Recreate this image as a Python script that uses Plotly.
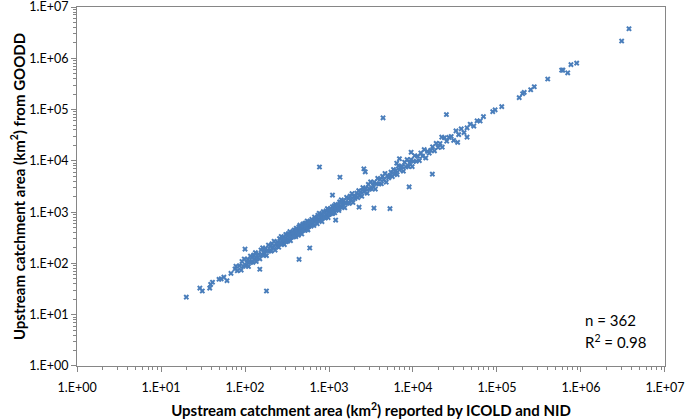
import plotly.graph_objects as go

# catchment area reported by ICOLD and NID (km2)
icold_area = [
    20, 29, 31, 38, 39, 41, 49, 52, 56, 61, 68, 76, 81, 78,
    100, 150, 180, 440, 590, 770, 1350, 1100, 1200, 2600, 2700, 2280, 3430, 5320,
    4400, 9000, 17000, 6900, 6400, 9500, 22000, 34000, 25000, 44000,
    86, 90, 92, 95, 98, 102, 105, 108, 110, 113,
    116, 118, 121, 124, 127, 130, 133, 136, 139, 142,
    145, 150, 155, 158, 162, 166, 170, 175, 180, 186,
    190, 195, 200, 205, 210, 216, 222, 228, 234, 240,
    246, 252, 258, 264, 270, 276, 282, 288, 294, 300,
    306, 312, 318, 324, 330, 336, 342, 348, 354, 360,
    366, 372, 378, 384, 390, 396, 402, 408, 414, 420,
    426, 432, 438, 444, 450, 456, 462, 468, 474, 480,
    490, 500, 510, 520, 530, 540, 550, 560, 570, 580,
    590, 600, 612, 624, 636, 648, 660, 672, 684, 696,
    710, 724, 738, 752, 766, 780, 795, 810, 825, 840,
    856, 872, 888, 905, 922, 940, 958, 976, 995, 1015,
    1035, 1055, 1075, 1095, 1120, 1145, 1170, 1195, 1220, 1250,
    1280, 1310, 1340, 1370, 1400, 1430, 1460, 1500, 1540, 1580,
    1620, 1660, 1700, 1745, 1790, 1835, 1880, 1930, 1980, 2030,
    2080, 2140, 2200, 2260, 2320, 2390, 2460, 2530, 2600, 2680,
    265, 280, 295, 310, 325, 340, 355, 370, 385, 400,
    415, 430, 445, 460, 475, 495, 515, 535, 555, 575,
    1000, 1040, 1080, 1110, 1150, 1190, 1230, 1270, 1320, 1360,
    2760, 2850, 2940, 3030, 3130, 3230, 3340, 3450, 3560, 3680,
    3800, 3930, 4060, 4200, 4340, 4490, 4640, 4800, 4960, 5130,
    5300, 5480, 5670, 5860, 6060, 6270, 6480, 6700, 6930, 7170,
    7420, 7680, 7950, 8230, 8520, 8820, 9130, 9450, 9780, 10100,
    10500, 10900, 11400, 11900, 12400, 13000, 13600, 14200, 14900, 15600,
    16300, 17100, 18000, 18900, 19900, 21000, 22300, 23700, 25200, 26800,
    28500, 30500, 32500, 35000, 37500, 40500, 44000, 48000, 53000, 58000, 63000,
    69000, 89000, 95000, 114000, 184000, 202000, 211000, 252000, 278000, 402000,
    589000, 610000, 695000, 760000, 889000, 3050000, 3730000,
]

# catchment area derived from GOODD (km2)
goodd_area = [
    22, 33, 29, 33, 39, 43, 49, 50, 54, 46, 64, 78, 72, 88,
    190, 77, 29, 120, 200, 7600, 4800, 2150, 700, 7000, 6100, 1250, 1200, 1170,
    69000, 3100, 5500, 11000, 9000, 14700, 29000, 23000, 80000, 29000,
    90, 74, 109, 88, 122, 90, 105, 121, 87, 110,
    139, 106, 131, 105, 146, 124, 162, 109, 143, 129,
    152, 123, 183, 147, 201, 146, 170, 196, 142, 180,
    228, 176, 216, 174, 242, 205, 271, 182, 241, 218,
    258, 207, 304, 246, 335, 243, 282, 323, 232, 291,
    367, 281, 343, 275, 380, 319, 417, 278, 365, 328,
    359, 409, 329, 445, 359, 412, 334, 486, 397, 449,
    447, 354, 517, 413, 558, 401, 462, 524, 374, 466,
    588, 450, 551, 442, 610, 513, 671, 448, 587, 528,
    578, 660, 532, 724, 585, 674, 548, 800, 657, 745,
    746, 594, 871, 699, 950, 686, 795, 907, 652, 815,
    1027, 785, 959, 769, 1060, 893, 1169, 781, 1025, 924,
    1014, 1161, 935, 1270, 1030, 1191, 971, 1422, 1171, 1338,
    1344, 1074, 1581, 1274, 1736, 1258, 1460, 1680, 1217, 1533,
    1944, 1494, 1836, 1483, 2059, 1743, 2294, 1544, 2039, 1847,
    2038, 2354, 1914, 2622, 2134, 2486, 2042, 3011, 2496, 2868,
    239, 308, 295, 264, 374, 347, 327, 400, 339, 448,
    415, 374, 503, 437, 504, 446, 603, 524, 466, 627,
    900, 1144, 1080, 944, 1323, 1214, 1132, 1372, 1162, 1523,
    2898, 2337, 3469, 2818, 3881, 2842, 3340, 3864, 2812, 3570,
    4560, 3537, 4385, 3570, 4991, 4266, 5661, 3840, 5109, 4668,
    5194, 6028, 4933, 6798, 5575, 6521, 5378, 7973, 6653, 7672,
    7791, 6298, 9381, 7654, 10565, 7762, 9130, 10584, 7726, 9797,
    12600, 9810, 12312, 10115, 14260, 12350, 16592, 11360, 15347, 14196,
    15974, 18810, 15660, 21924, 18308, 21840, 18509, 28203, 24192, 28676,
    29925, 25010, 38350, 32550, 42000, 35640, 44000, 51840, 47700, 60320, 59850,
    73000, 91000, 99000, 114000, 171000, 204000, 216000, 244000, 279000, 394000,
    588000, 588000, 521000, 755000, 804000, 2170000, 3770000,
]

tick_vals = [1, 10, 100, 1000, 10000, 100000, 1000000, 10000000]
tick_text = ['1.E+00', '1.E+01', '1.E+02', '1.E+03', '1.E+04', '1.E+05', '1.E+06', '1.E+07']

axis_grey = '#868686'

fig = go.Figure()
fig.add_trace(go.Scatter(
    x=icold_area, y=goodd_area, mode='markers',
    marker=dict(symbol='x', size=5, color='#4a7ebb'),
    showlegend=False
))

axis_style = dict(
    type='log', range=[-0.0005, 7.0005], automargin=False,
    tickmode='array', tickvals=tick_vals, ticktext=tick_text,
    ticklabeloverflow='allow',
    showgrid=False, zeroline=False,
    showline=True, linecolor=axis_grey, linewidth=1, mirror=True,
    ticks='outside', ticklen=5, tickcolor=axis_grey,
    tickfont=dict(family='Lato', size=12.5, color='#000000'),
    minor=dict(dtick='D1', ticks='outside', ticklen=3, tickcolor=axis_grey, showgrid=False),
)

fig.update_xaxes(**axis_style, ticklabelstandoff=5,
                 title=dict(text='Upstream catchment area (km<sup>2</sup>) reported by ICOLD and NID',
                            font=dict(family='Lato', size=15, color='#000000', weight='bold'),
                            standoff=14))
fig.update_yaxes(**axis_style,
                 title=dict(text='Upstream catchment area (km<sup>2</sup>) from GOODD',
                            font=dict(family='Lato', size=15, color='#000000', weight='bold'),
                            standoff=0))

fig.add_annotation(x=0.86, y=0.127, xref='paper', yref='paper', text='n = 362',
                   showarrow=False, xanchor='left', yanchor='middle',
                   font=dict(family='Lato', size=15, color='#000000'))
fig.add_annotation(x=0.86, y=0.069, xref='paper', yref='paper', text='R<sup>2</sup> = 0.98',
                   showarrow=False, xanchor='left', yanchor='middle',
                   font=dict(family='Lato', size=15, color='#000000'))

fig.update_layout(
    width=685, height=419,
    margin=dict(l=77, r=20, t=7, b=53),
    plot_bgcolor='white', paper_bgcolor='white',
)

# drop the default page margin so the figure fills the window
fig.write_html("out.html", config={'displayModeBar': False},
               post_script="document.body.style.margin='0';")
